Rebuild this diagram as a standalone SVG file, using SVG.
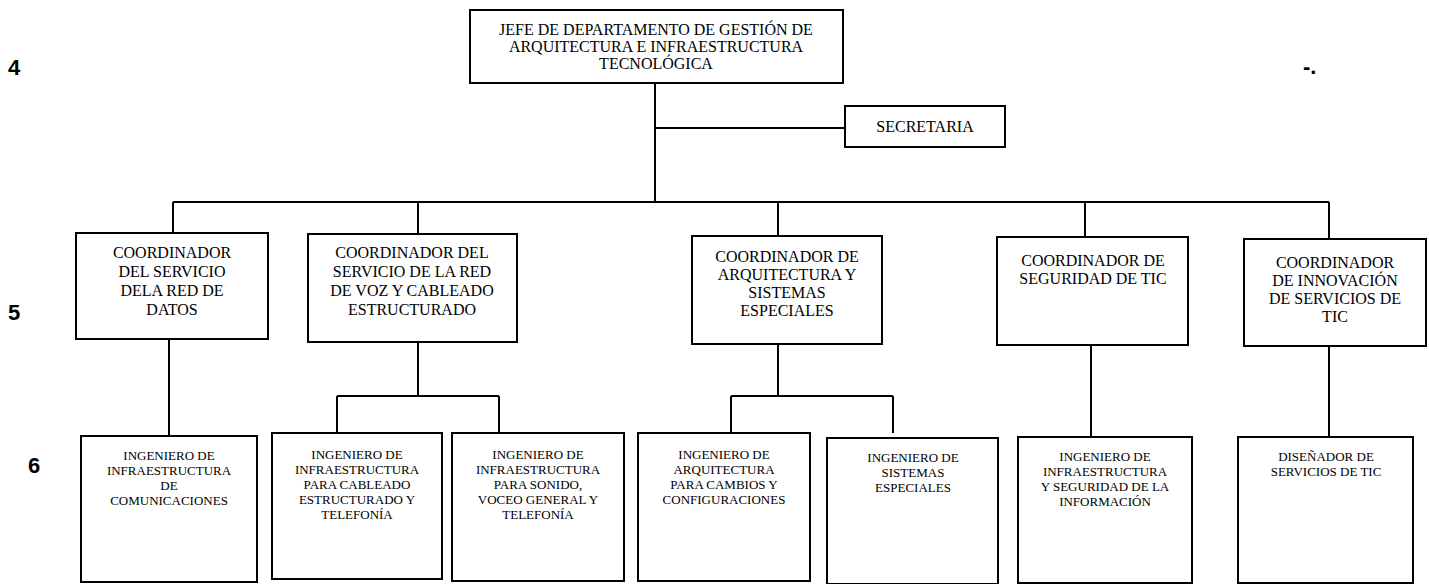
<svg xmlns="http://www.w3.org/2000/svg" width="1429" height="584" viewBox="0 0 1429 584">
<style>
.box{fill:#fff;stroke:#000;stroke-width:2}
.ln{fill:none;stroke:#000;stroke-width:2}
.t{font-family:"Liberation Serif","Times New Roman",serif;text-anchor:middle;fill:#000}
.t1{font-size:16px}
.t2{font-size:16px}
.t3{font-size:13px}
.n{font-family:"Liberation Sans",Arial,sans-serif;font-weight:bold;font-size:22px;fill:#000}
</style>
<rect width="1429" height="584" fill="#fff"/>
<g id="connectors">
<path class="ln" d="M655,83V202M655,128H845"/>
<path class="ln" d="M173,202H1329M173,202V233M418,202V234M778,202V236M1085,202V237M1329,202V239"/>
<path class="ln" d="M169,339V436"/>
<path class="ln" d="M418,342V396M337,396H499M337,396V433M499,396V433"/>
<path class="ln" d="M778,344V396M731,396H893M731,396V433M893,396V433"/>
<path class="ln" d="M1091,345V437"/>
<path class="ln" d="M1329,346V437"/>
</g>
<g id="jefe"><rect class="box" x="470" y="10" width="373" height="73"/>
<text class="t t1"><tspan x="656" y="35">JEFE DE DEPARTAMENTO DE GESTIÓN DE</tspan><tspan x="656" y="52">ARQUITECTURA E INFRAESTRUCTURA</tspan><tspan x="656" y="69">TECNOLÓGICA</tspan></text></g>
<g id="secretaria"><rect class="box" x="845" y="106" width="160" height="41"/>
<text class="t t2" x="925" y="132">SECRETARIA</text></g>
<g id="coord1"><rect class="box" x="76" y="233" width="192" height="106"/>
<text class="t t2"><tspan x="172" y="258">COORDINADOR</tspan><tspan x="172" y="277">DEL SERVICIO</tspan><tspan x="172" y="296">DELA RED DE</tspan><tspan x="172" y="315">DATOS</tspan></text></g>
<g id="coord2"><rect class="box" x="308" y="234" width="209" height="108"/>
<text class="t t2"><tspan x="412" y="258">COORDINADOR DEL</tspan><tspan x="412" y="277">SERVICIO DE LA RED</tspan><tspan x="412" y="296">DE VOZ Y CABLEADO</tspan><tspan x="412" y="315">ESTRUCTURADO</tspan></text></g>
<g id="coord3"><rect class="box" x="692" y="236" width="190" height="108"/>
<text class="t t2"><tspan x="787" y="262">COORDINADOR DE</tspan><tspan x="787" y="280">ARQUITECTURA Y</tspan><tspan x="787" y="298">SISTEMAS</tspan><tspan x="787" y="316">ESPECIALES</tspan></text></g>
<g id="coord4"><rect class="box" x="997" y="237" width="191" height="108"/>
<text class="t t2"><tspan x="1093" y="266">COORDINADOR DE</tspan><tspan x="1093" y="284">SEGURIDAD DE TIC</tspan></text></g>
<g id="coord5"><rect class="box" x="1244" y="239" width="182" height="107"/>
<text class="t t2"><tspan x="1335" y="268">COORDINADOR</tspan><tspan x="1335" y="286">DE INNOVACIÓN</tspan><tspan x="1335" y="304">DE SERVICIOS DE</tspan><tspan x="1335" y="322">TIC</tspan></text></g>
<g id="ing1"><rect class="box" x="81" y="436" width="176" height="146"/>
<text class="t t3"><tspan x="169" y="460">INGENIERO DE</tspan><tspan x="169" y="475">INFRAESTRUCTURA</tspan><tspan x="169" y="490">DE</tspan><tspan x="169" y="505">COMUNICACIONES</tspan></text></g>
<g id="ing2"><rect class="box" x="272" y="433" width="170" height="146"/>
<text class="t t3"><tspan x="357" y="459">INGENIERO DE</tspan><tspan x="357" y="474">INFRAESTRUCTURA</tspan><tspan x="357" y="489">PARA CABLEADO</tspan><tspan x="357" y="504">ESTRUCTURADO Y</tspan><tspan x="357" y="519">TELEFONÍA</tspan></text></g>
<g id="ing3"><rect class="box" x="452" y="433" width="172" height="148"/>
<text class="t t3"><tspan x="538" y="459">INGENIERO DE</tspan><tspan x="538" y="474">INFRAESTRUCTURA</tspan><tspan x="538" y="489">PARA SONIDO,</tspan><tspan x="538" y="504">VOCEO GENERAL Y</tspan><tspan x="538" y="519">TELEFONÍA</tspan></text></g>
<g id="ing4"><rect class="box" x="638" y="433" width="172" height="148"/>
<text class="t t3"><tspan x="724" y="459">INGENIERO DE</tspan><tspan x="724" y="474">ARQUITECTURA</tspan><tspan x="724" y="489">PARA CAMBIOS Y</tspan><tspan x="724" y="504">CONFIGURACIONES</tspan></text></g>
<g id="ing5"><rect class="box" x="827" y="438" width="171" height="146"/>
<text class="t t3"><tspan x="913" y="462">INGENIERO DE</tspan><tspan x="913" y="477">SISTEMAS</tspan><tspan x="913" y="492">ESPECIALES</tspan></text></g>
<g id="ing6"><rect class="box" x="1018" y="437" width="174" height="146"/>
<text class="t t3"><tspan x="1105" y="461">INGENIERO DE</tspan><tspan x="1105" y="476">INFRAESTRUCTURA</tspan><tspan x="1105" y="491">Y SEGURIDAD DE LA</tspan><tspan x="1105" y="506">INFORMACIÓN</tspan></text></g>
<g id="dis"><rect class="box" x="1238" y="437" width="175" height="146"/>
<text class="t t3"><tspan x="1326" y="461">DISEÑADOR DE</tspan><tspan x="1326" y="476">SERVICIOS DE TIC</tspan></text></g>
<g id="labels">
<text class="n" x="8" y="75">4</text>
<text class="n" x="8" y="320">5</text>
<text class="n" x="28" y="473">6</text>
<text class="n" x="1303" y="74">-.</text>
</g>
</svg>
